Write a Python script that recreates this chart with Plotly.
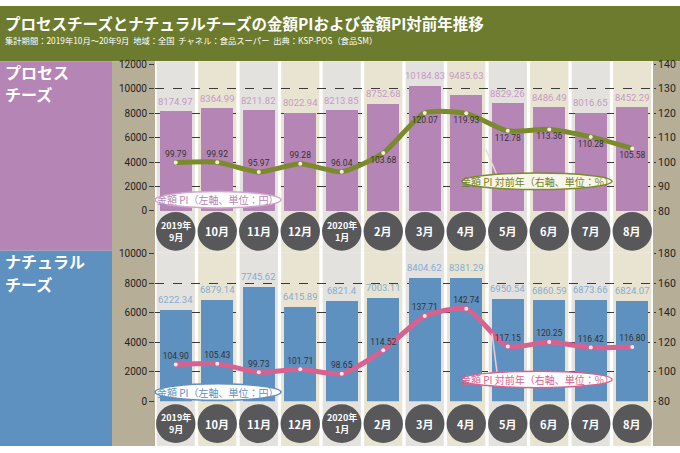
import plotly.graph_objects as go

W, H = 680, 453

months = ["2019年<br>9月", "10月", "11月", "12月",
          "2020年<br>1月", "2月", "3月", "4月",
          "5月", "6月", "7月", "8月"]

process_pi = [8174.97, 8364.99, 8211.82, 8022.94, 8213.85, 8752.68,
              10184.83, 9485.63, 8829.26, 8486.49, 8016.65, 8452.29]
process_yoy = [99.79, 99.92, 95.97, 99.28, 96.04, 103.68,
               120.07, 119.93, 112.78, 113.36, 110.28, 105.58]

natural_pi = [6222.34, 6879.14, 7745.62, 6415.89, 6821.4, 7003.11,
              8404.62, 8381.29, 6950.54, 6860.59, 6873.66, 6824.07]
natural_yoy = [104.90, 105.43, 99.73, 101.71, 98.65, 114.52,
               137.71, 142.74, 117.15, 120.25, 116.42, 116.80]

process_left_ticks = [0, 2000, 4000, 6000, 8000, 10000, 12000]
process_right_ticks = [80, 90, 100, 110, 120, 130, 140]
natural_left_ticks = [0, 2000, 4000, 6000, 8000, 10000]
natural_right_ticks = [80, 100, 120, 140, 160, 180]

# label placement (style)
process_yoy_pos = ["top center"] * 5 + ["bottom center"] * 7
natural_yoy_pos = ["top center"] * 12
process_bar_lift = [10, 10, 10, 10, 10, 10, 11, 20, 10, 10, 10, 10]
natural_bar_lift = [10] * 12

OLIVE = "#6c7b2d"
MAUVE = "#b585b5"
MAUVE_TXT = "#c699c5"
BLUE = "#5e90c0"
BLUE_TXT = "#86acd3"
LINE_G = "#7b8a2c"
LINE_P = "#d8628f"
TAN = "#b7ae98"
NUM_FONT = "Roboto, sans-serif"
JP_FONT = "Noto Sans CJK JP"


def px(x):
    return x / W


def py(y):
    return 1 - y / H


x_idx = list(range(len(months)))

fig = go.Figure()

fig.add_trace(go.Bar(
    x=x_idx, y=process_pi, xaxis="x", yaxis="y", width=0.77,
    marker=dict(color=MAUVE, line=dict(width=0)), hoverinfo="skip"))
fig.add_trace(go.Scatter(
    x=x_idx, y=process_yoy, xaxis="x", yaxis="y2",
    mode="lines+markers+text",
    line=dict(color=LINE_G, width=5, shape="spline", smoothing=0.6),
    marker=dict(size=4, color="#f2f0dc"),
    text=[f"{v:.2f}" for v in process_yoy], textposition=process_yoy_pos,
    textfont=dict(family=NUM_FONT, size=8.5, color="#333333"),
    cliponaxis=False, hoverinfo="skip"))

fig.add_trace(go.Bar(
    x=x_idx, y=natural_pi, xaxis="x2", yaxis="y3", width=0.77,
    marker=dict(color=BLUE, line=dict(width=0)), hoverinfo="skip"))
fig.add_trace(go.Scatter(
    x=x_idx, y=natural_yoy, xaxis="x2", yaxis="y4",
    mode="lines+markers+text",
    line=dict(color=LINE_P, width=5, shape="spline", smoothing=0.6),
    marker=dict(size=4, color="#f7e6ee"),
    text=[f"{v:.2f}" for v in natural_yoy], textposition=natural_yoy_pos,
    textfont=dict(family=NUM_FONT, size=8.5, color="#333333"),
    cliponaxis=False, hoverinfo="skip"))

xdom = [px(155), px(653)]
grid = dict(showgrid=True, gridcolor="#3a3a3a", griddash="dash", gridwidth=1,
            zeroline=False, showline=False)
lefttick = dict(ticks="outside", ticklen=5, tickcolor="#3a3a3a",
                tickfont=dict(family=NUM_FONT, size=10, color="#222"))
righttick = dict(ticks="outside", ticklen=2, tickcolor="#3a3a3a",
                 tickfont=dict(family=NUM_FONT, size=10.5, color="#222"))

fig.update_layout(
    width=W, height=H, margin=dict(l=0, r=0, t=0, b=0),
    paper_bgcolor="white", plot_bgcolor="rgba(0,0,0,0)",
    showlegend=False, bargap=0,
    xaxis=dict(domain=xdom, range=[-0.5, 11.5], anchor="y", visible=False),
    yaxis=dict(domain=[py(211), py(60)], range=[0, 12000],
               tickvals=process_left_ticks, ticktext=[str(t) for t in process_left_ticks],
               anchor="x", **grid, **lefttick),
    yaxis2=dict(domain=[py(211), py(60)], range=[80, 140], overlaying="y",
                side="right", anchor="x", tickvals=process_right_ticks,
                ticktext=[str(t) for t in process_right_ticks],
                showgrid=False, zeroline=False, **righttick),
    xaxis2=dict(domain=xdom, range=[-0.5, 11.5], anchor="y3", visible=False),
    yaxis3=dict(domain=[py(407), py(255)], range=[0, 10000],
                tickvals=natural_left_ticks, ticktext=[str(t) for t in natural_left_ticks],
                anchor="x2", **grid, **lefttick),
    yaxis4=dict(domain=[py(407), py(255)], range=[80, 180], overlaying="y3",
                side="right", anchor="x2", tickvals=natural_right_ticks,
                ticktext=[str(t) for t in natural_right_ticks],
                showgrid=False, zeroline=False, **righttick),
)

shapes = []


def prect(x0, y0, x1, y1, color):
    shapes.append(dict(type="rect", xref="paper", yref="paper", layer="below",
                       x0=px(x0), x1=px(x1), y0=py(y1), y1=py(y0),
                       fillcolor=color, line=dict(width=0)))


prect(0, 0, W, 57, OLIVE)
prect(0, 57, 112, 252, MAUVE)
prect(0, 252, 112, H, BLUE)
prect(112, 57, 155, H, TAN)
prect(653, 57, W, H, TAN)
prect(155, 57, 653, H, "white")

for i in x_idx:
    col = "#e4e2de" if i % 2 == 0 else "#e9e4d1"
    for xr in ("x", "x2"):
        y0, y1 = (57, 254) if xr == "x" else (254, H)
        shapes.append(dict(type="rect", xref=xr, yref="paper", layer="below",
                           x0=i - 0.46, x1=i + 0.46, y0=py(y1), y1=py(y0),
                           fillcolor=col, line=dict(width=0)))

for i in x_idx:
    for xr, cy in (("x", 232), ("x2", 430)):
        shapes.append(dict(type="circle", xref=xr, yref="paper", layer="above",
                           x0=i - 0.475, x1=i + 0.475,
                           y0=py(cy + 20), y1=py(cy - 20),
                           fillcolor="#58585a", line=dict(width=0)))

shapes.append(dict(type="line", xref="paper", yref="paper",
                   x0=px(486), y0=py(148), x1=px(497), y1=py(174),
                   line=dict(color="#dfe0c4", width=1.5)))
shapes.append(dict(type="line", xref="paper", yref="paper",
                   x0=px(492), y0=py(337), x1=px(497), y1=py(377),
                   line=dict(color="#f0c9d8", width=1.5)))


def ell(x0, y0, x1, y1, fill, border):
    shapes.append(dict(type="circle", xref="paper", yref="paper", layer="above",
                       x0=px(x0), x1=px(x1), y0=py(y1), y1=py(y0),
                       fillcolor=fill, line=dict(color=border, width=1.5)))


ell(155, 191, 281, 208, "white", "#cfa6ce")
ell(462, 172, 612, 189, "#f8f6e8", LINE_G)
ell(155, 389, 281, 406, "white", BLUE)
ell(462, 376, 612, 393, "white", LINE_P)

fig.update_layout(shapes=shapes)

ann = []


def ptext(x, y, text, size, color, bold=False, xanchor="left", yanchor="middle", family=JP_FONT):
    t = f"<b>{text}</b>" if bold else text
    ann.append(dict(xref="paper", yref="paper", x=px(x), y=py(y), text=t,
                    showarrow=False, xanchor=xanchor, yanchor=yanchor,
                    font=dict(family=family, size=size, color=color)))


ptext(3, 17, "プロセスチーズとナチュラルチーズの金額PIおよび金額PI対前年推移", 15.5, "white", bold=True)
ptext(3, 35, "集計期間：2019年10月～20年9月  地域：全国  チャネル：食品スーパー  出典：KSP-POS（食品SM）", 8.3, "white")
ptext(3, 68, "プロセス", 16, "white", bold=True)
ptext(3, 91, "チーズ", 16, "white", bold=True)
ptext(3, 263, "ナチュラル", 16, "white", bold=True)
ptext(3, 286, "チーズ", 16, "white", bold=True)

ptext(218, 199.5, "金額 PI（左軸、単位：円）", 10, MAUVE, xanchor="center")
ptext(537, 180.5, "金額 PI 対前年（右軸、単位：%）", 10, "#6f7f22", xanchor="center")
ptext(218, 397.5, "金額 PI（左軸、単位：円）", 10, BLUE, xanchor="center")
ptext(537, 384.5, "金額 PI 対前年（右軸、単位：%）", 10, LINE_P, xanchor="center")

# bar value labels
for i in x_idx:
    ann.append(dict(xref="x", yref="y", x=i, y=process_pi[i], text=str(process_pi[i]),
                    showarrow=False, xanchor="center", yanchor="middle",
                    yshift=process_bar_lift[i],
                    font=dict(family=NUM_FONT, size=9.5, color=MAUVE_TXT)))
    ann.append(dict(xref="x2", yref="y3", x=i, y=natural_pi[i], text=str(natural_pi[i]),
                    showarrow=False, xanchor="center", yanchor="middle",
                    yshift=natural_bar_lift[i],
                    font=dict(family=NUM_FONT, size=9.5, color=BLUE_TXT)))

for i, m in enumerate(months):
    for xr, cy in (("x", 232), ("x2", 430)):
        two = "<br>" in m
        ann.append(dict(xref=xr, yref="paper", x=i, y=py(cy), text=f"<b>{m}</b>",
                        showarrow=False, xanchor="center", yanchor="middle",
                        font=dict(family=JP_FONT, size=9 if two else 11, color="white")))

fig.update_layout(annotations=ann)

fig.write_html("out.html", config={"displayModeBar": False},
               post_script="document.body.style.margin='0';document.body.style.padding='0';")
